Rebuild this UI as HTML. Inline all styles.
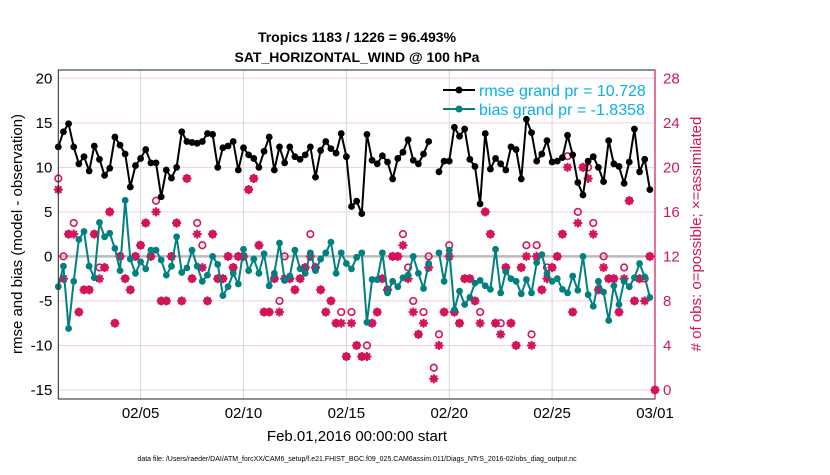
<!DOCTYPE html>
<html><head><meta charset="utf-8"><style>
body{margin:0;background:#fff;width:830px;height:470px;overflow:hidden}
svg{font-family:"Liberation Sans",Arial,sans-serif}
</style></head><body>
<svg id="chart" width="830" height="470">
<text x="357" y="42" text-anchor="middle" font-size="14" font-weight="bold">Tropics 1183 / 1226 = 96.493%</text>
<text x="357" y="62" text-anchor="middle" font-size="14" font-weight="bold">SAT_HORIZONTAL_WIND @ 100 hPa</text>
<g id="grid"></g><g id="marks"></g><g id="axes"></g>
<text transform="translate(22,234) rotate(-90)" text-anchor="middle" font-size="15">rmse and bias (model - observation)</text>
<text transform="translate(701,234) rotate(-90)" text-anchor="middle" font-size="15" fill="#d4145a"># of obs: o=possible; ×=assimilated</text>
<text x="357" y="441" text-anchor="middle" font-size="15">Feb.01,2016 00:00:00 start</text>
<text x="357" y="461" text-anchor="middle" font-size="7">data file: /Users/raeder/DAI/ATM_forcXX/CAM6_setup/f.e21.FHIST_BGC.f09_025.CAM6assim.011/Diags_NTrS_2016-02/obs_diag_output.nc</text>
<g>
<line x1="443" y1="90" x2="475" y2="90" stroke="#000" stroke-width="2"/><circle cx="459" cy="90" r="3.5" fill="#000"/>
<text x="479" y="96" font-size="16" fill="#0aaef0">rmse grand pr = 10.728</text>
<line x1="443" y1="109" x2="475" y2="109" stroke="#008080" stroke-width="2"/><circle cx="459" cy="109" r="3.5" fill="#008080"/>
<text x="479" y="115" font-size="16" fill="#0aaef0">bias grand pr = -1.8358</text>
</g>
</svg>
<script>
const rmse=[12.3,14,14.9,12.3,10.4,11.2,9.6,12.4,10.9,9.1,9.9,13.4,12.5,11.5,7.8,10.2,11,12,10.5,10.5,6.7,9.7,8.8,10,14,12.9,12.8,12.7,12.9,13.8,13.7,10,12.2,12.4,12.9,9.7,12.2,11.4,11,10,11.8,13.4,9.7,12.3,10.5,12.3,11.2,10.9,11.4,12.3,8.9,11.9,12.9,12.1,11.6,13.8,11.2,5.6,6.2,4.8,13.7,10.8,10.4,11.3,10.6,8.7,11,11.7,13.1,10.8,10.4,11.5,12.9,null,9.5,10.7,10.7,14.5,13.5,14.3,10.9,10.1,5.9,13.8,9.8,11,10.4,9.7,12.3,12,8.7,15.4,13.9,10.7,11.5,13,10.6,10.7,11.1,13.6,11.4,8.3,6.9,10.7,11.2,10,8.4,13,10.4,10.1,8.2,10.6,14.3,9.5,10.9,7.5,null];
const bias=[-3.4,-1.1,-8.1,-2.8,1.9,2.8,-1.1,-2.4,3.8,2.2,2.6,0.9,-1.6,6.3,-0.3,-1.9,-0.6,-1.4,0.7,0.7,-0.4,-2.1,-1.1,2.2,-1.8,-1.3,0.7,-1.1,-2.8,-2.1,0,-0.9,-4.4,-3.4,-1.9,-3.1,0.8,-1.6,-0.3,-1.9,0.3,-3.3,-1.9,1.5,-2.7,-2.2,0.7,-1.4,-1.9,0.4,-1.6,-0.3,0.4,1.6,-1.9,0.4,-0.8,-1.4,-0.1,0.4,-7.4,-2.6,-2.6,0.4,-4.1,-2.8,-3.4,-2.4,-2.1,0,-1.9,-3.6,-0.8,null,0.4,-2.8,0.7,-6,-3.9,-5.4,-4.6,-3,-2.7,-3.3,-3.7,0.8,-4.1,-1.7,-2.5,-2.8,-4.2,-2.6,-4.1,-0.7,0.2,-1.9,-2.8,-2.5,-3.7,-4.1,-2.2,-3.8,0,-4.3,-5.6,-2.8,-4,-7.2,-3.3,-5.4,-2.8,-3.4,-2.4,-0.8,-2.3,-4.6,null];
const assim=[18,10,14,14,7,9,9,14,10,11,16,6,12,10,9,12,13,15,12,16,8,8,12,15,8,19,10,14,11,8,14,10,10,12,11,12,12,18,19,13,7,7,10,7,10,10,9,10,11,12,11,9,7,8,6,6,3,6,4,3,3,6,7,10,9,12,12,13,10,7,5,6,11,1,4,7,12,7,6,10,10,8,6,16,14,6,5,11,6,4,11,12,4,12,9,10,11,12,14,20,7,15,20,19,14,9,11,10,10,7,10,17,8,10,8,12,0];
const possible=[19,12,14,15,7,9,9,14,11,11,16,6,12,10,9,12,13,15,12,17,8,8,12,15,8,19,10,15,13,8,14,10,10,12,11,12,12,18,19,13,7,7,10,8,12,10,9,10,11,14,11,9,7,8,6,7,3,7,4,3,4,6,7,10,9,12,12,14,11,8,5,7,12,2,5,7,13,7,6,10,10,8,7,16,14,6,6,11,6,4,11,13,5,13,9,11,11,12,14,21,7,16,20,20,15,9,12,10,10,7,11,17,8,10,10,12,0];
const xTickLabels=["02/05","02/10","02/15","02/20","02/25","03/01"];
const xTickDays=[4,9,14,19,24,29];
const yTicks=[20,15,10,5,0,-5,-10,-15];
const rTicks=[28,24,20,16,12,8,4,0];

const NS="http://www.w3.org/2000/svg";
const L=58.3,R=655,T=70,B=399;
const xd=d=>L+d*(R-L)/29;
const xi=i=>xd(i/4);
const yl=v=>256.4-v*8.905;
const yr=c=>yl(c/0.8-15);
function mk(tag,at,parent){const e=document.createElementNS(NS,tag);for(const k in at)e.setAttribute(k,at[k]);parent.appendChild(e);return e;}
const grid=document.getElementById('grid'),marks=document.getElementById('marks'),axes=document.getElementById('axes');
yTicks.forEach(v=>{const l=mk('line',{x1:L,x2:R,y1:yl(v),y2:yl(v),stroke:'#f3cfdc','stroke-width':1},grid);


const t=mk('text',{x:L-6,y:yl(v)+5,'text-anchor':'end','font-size':15},axes);t.textContent=v;

});
rTicks.forEach(c=>{const t=mk('text',{x:R+8,y:yr(c)+5,'font-size':15,fill:'#d4145a'},axes);t.textContent=c;

});
xTickDays.forEach((d,k)=>{const l=mk('line',{x1:xd(d),x2:xd(d),y1:T,y2:B,stroke:'#d8d8d8','stroke-width':1},grid);


const t=mk('text',{x:xd(d),y:418,'text-anchor':'middle','font-size':15},axes);t.textContent=xTickLabels[k];

});
const z=mk('line',{x1:L,x2:R,y1:yl(0),y2:yl(0),stroke:'#bbb','stroke-width':2.5},grid);


const fr=mk('rect',{x:L,y:T,width:R-L,height:B-T,fill:'none',stroke:'#222','stroke-width':1},axes);


const rax=mk('line',{x1:R,x2:R,y1:T,y2:B,stroke:'#d4145a','stroke-width':1.2},axes);


// counts
possible.forEach((c,i)=>{const e=mk('circle',{cx:xi(i),cy:yr(c),r:3.3,fill:'none',stroke:'#d4145a','stroke-width':1.6},marks);

});
assim.forEach((c,i)=>{const g=mk('g',{stroke:'#d4145a','stroke-width':2.2,'stroke-linecap':'round'},marks);


const x=xi(i),y=yr(c),s=3.6;
mk('line',{x1:x-s,x2:x+s,y1:y,y2:y},g);mk('line',{x1:x,x2:x,y1:y-s,y2:y+s},g);
mk('line',{x1:x-s*.7,x2:x+s*.7,y1:y-s*.7,y2:y+s*.7},g);mk('line',{x1:x-s*.7,x2:x+s*.7,y1:y+s*.7,y2:y-s*.7},g);});
function series(arr,col,name){let d='',pen=false;
arr.forEach((v,i)=>{if(v===null){pen=false;return;}d+=(pen?'L':'M')+xi(i).toFixed(1)+' '+yl(v).toFixed(1);pen=true;});
const p=mk('path',{d:d,fill:'none',stroke:col,'stroke-width':2,'stroke-linejoin':'round'},marks);


arr.forEach((v,i)=>{if(v===null)return;const c=mk('circle',{cx:xi(i),cy:yl(v),r:3.4,fill:col},marks);

});}
series(bias,'#008080','bias');
series(rmse,'#000','rmse');
</script>
</body></html>
